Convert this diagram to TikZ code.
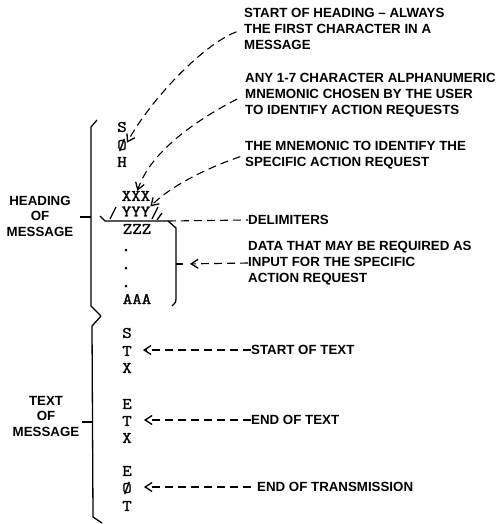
\documentclass[tikz,border=0pt]{standalone}
\usepackage{fontspec}
\newfontfamily\lblfont{Liberation Sans Bold}
\newfontfamily\chrfont[FakeStretch=1.15, FakeBold=1.5]{Latin Modern Mono}
\usetikzlibrary{arrows.meta, positioning}

\begin{document}
\begin{tikzpicture}[
    x=1pt, y=-1pt,
    >={Straight Barb[length=7pt,width=9pt,line width=1.3pt]}, % open arrow heads
    lbl/.style={font=\lblfont\fontsize{13.3}{16}\selectfont, align=left, anchor=west, inner sep=0pt},
    side/.style={font=\lblfont\fontsize{13.3}{15.5}\selectfont, align=center, inner sep=0pt},
    chr/.style={font=\chrfont\fontsize{16}{16}\selectfont, inner sep=0pt},
    lead/.style={dash pattern=on 8pt off 5pt, line width=1.1pt},
    brace/.style={line width=1.3pt, line join=round}
]
    \useasboundingbox (0,0) rectangle (502,524);

    % Heading characters
    \node[chr] (s1) at (122,127) {S};
    \node[chr] (o1) at (122,145) {Ø};
    \node[chr] (h1) at (122,162) {H};
    \node[chr] (xx) at (136,196) {XXX};
    \node[chr] (yy) at (136,211.5) {YYY};
    \node[chr] (zz) at (137,229) {ZZZ};
    \foreach \y in {250,268,286}
        \fill (126,\y) circle (1.5);
    \node[chr] (aa) at (137,299) {AAA};

    % Text characters
    \node[chr] (s2) at (127,333) {S};
    \node[chr] (t2) at (127,351) {T};
    \node[chr] (x2) at (127,368) {X};
    \node[chr] (e3) at (127,404) {E};
    \node[chr] (t3) at (127,421) {T};
    \node[chr] (x3) at (127,438) {X};
    \node[chr] (e4) at (127,471) {E};
    \node[chr] (o4) at (127,488) {Ø};
    \node[chr] (t4) at (127,506) {T};

    % Braces on the left
    \draw[brace] (97,120) -- (91,127) -- (91,306) -- (101,316) -- (92,326) -- (93,517) -- (102,523);
    \draw[brace] (80,217) -- (91,217);
    \draw[brace] (82,422) -- (93,422);
    \node[side] (head) at (40,216) {HEADING\\OF\\MESSAGE};
    \node[side] (text) at (46,416) {TEXT\\OF\\MESSAGE};

    % Delimiters and data bracket
    \draw[brace] (110,219) -- (116,207);
    \draw[brace] (152,219) -- (158,207);
    \draw[brace] (157,220) -- (162,213);
    \coordinate (dlcorner) at (168,221);
    \coordinate (dtick) at (183,264);
    \draw[brace] (100,216) -- (105,221) -- (dlcorner) -- (176,228) -- (176,299)
        .. controls (176,302) .. (172,306);
    \draw[brace] (176,264) -- (dtick);

    % Labels on the right
    \node[lbl] (soh) at (244,29) {START OF HEADING – ALWAYS\\THE FIRST CHARACTER IN A\\MESSAGE};
    \node[lbl] (mne) at (245,95) {ANY 1-7 CHARACTER ALPHANUMERIC\\MNEMONIC CHOSEN BY THE USER\\TO IDENTIFY ACTION REQUESTS};
    \node[lbl] (act) at (245,155) {THE MNEMONIC TO IDENTIFY THE\\SPECIFIC ACTION REQUEST};
    \node[lbl] (dlm) at (248,220) {DELIMITERS};
    \node[lbl] (dat) at (248,263) {DATA THAT MAY BE REQUIRED AS\\INPUT FOR THE SPECIFIC\\ACTION REQUEST};
    \node[lbl] (stx) at (251,350) {START OF TEXT};
    \node[lbl] (etx) at (251,420) {END OF TEXT};
    \node[lbl] (eot) at (257,487) {END OF TRANSMISSION};

    % Leaders
    \draw[lead, ->, shorten <=8pt] (soh.west) .. controls +(-40,15) and +(25,-45) .. (o1.25);
    \draw[lead, ->, shorten <=9pt] (mne.west) .. controls +(-35,18) and +(15,-45) .. (xx.75);
    \draw[lead, ->, shorten <=5pt] (act.west) .. controls +(-35,12) and +(22,-22) .. (yy.north east);
    \draw[lead] (dlcorner) -- (dlm.west);
    \draw[lead, ->, shorten >=7pt] (dat.west) -- (dtick);
    \draw[lead, ->, shorten >=11pt] (stx.west) -- (stx.west -| t2.east);
    \draw[lead, ->, shorten >=12pt] (etx.west) -- (etx.west -| t3.east);
    \draw[lead, ->, shorten <=6pt, shorten >=12pt] (eot.west) -- (eot.west -| o4.east);

\end{tikzpicture}
\end{document}
